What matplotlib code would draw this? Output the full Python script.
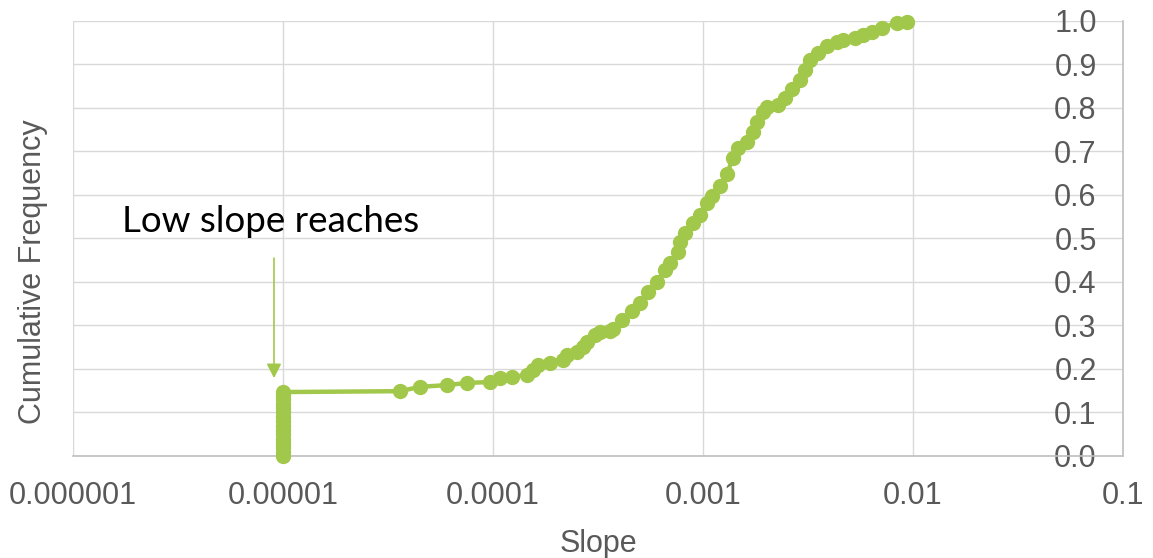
import numpy as np
import matplotlib.pyplot as plt

# slope values and cumulative frequency of the reaches
slope = [1e-5, 1e-5, 1e-5, 1e-5, 1e-5, 1e-5, 1e-5, 1e-5,
         1e-5, 1e-5, 1e-5, 1e-5, 1e-5, 1e-5, 1e-5, 1e-5,
         3.61e-5, 4.49e-5, 6.04e-5, 7.52e-5, 9.67e-5, 1.08e-4, 1.23e-4,
         1.45e-4, 1.55e-4, 1.64e-4, 1.87e-4, 2.15e-4, 2.25e-4, 2.51e-4,
         2.68e-4, 2.80e-4, 3.06e-4, 3.23e-4, 3.61e-4, 3.73e-4, 4.11e-4,
         4.59e-4, 5.01e-4, 5.47e-4, 6.04e-4, 6.59e-4, 6.97e-4, 7.60e-4,
         7.77e-4, 8.21e-4, 8.96e-4, 9.67e-4, 1.045e-3, 1.10e-3, 1.21e-3,
         1.30e-3, 1.39e-3, 1.47e-3, 1.62e-3, 1.73e-3, 1.81e-3, 1.93e-3,
         2.02e-3, 2.28e-3, 2.46e-3, 2.65e-3, 2.90e-3, 3.06e-3, 3.23e-3,
         3.53e-3, 3.90e-3, 4.35e-3, 4.64e-3, 5.29e-3, 5.78e-3, 6.38e-3,
         7.12e-3, 8.39e-3, 9.36e-3]
cum_freq = [0.0, 0.01, 0.02, 0.03, 0.04, 0.05, 0.06, 0.07,
            0.08, 0.09, 0.10, 0.11, 0.12, 0.13, 0.14, 0.147,
            0.149, 0.159, 0.163, 0.168, 0.170, 0.179, 0.182,
            0.186, 0.198, 0.209, 0.214, 0.221, 0.232, 0.239,
            0.251, 0.262, 0.278, 0.285, 0.288, 0.292, 0.312,
            0.333, 0.352, 0.377, 0.400, 0.428, 0.443, 0.470,
            0.492, 0.513, 0.536, 0.554, 0.582, 0.597, 0.620,
            0.648, 0.686, 0.708, 0.722, 0.745, 0.768, 0.791,
            0.802, 0.808, 0.823, 0.843, 0.864, 0.887, 0.910,
            0.926, 0.942, 0.952, 0.956, 0.961, 0.968, 0.975,
            0.985, 0.995, 0.997]

xticks = [1e-6, 1e-5, 1e-4, 1e-3, 1e-2, 1e-1]
xtick_labels = ['0.000001', '0.00001', '0.0001', '0.001', '0.01', '0.1']
yticks = np.round(np.arange(0, 1.01, 0.1), 1)

green = '#a2c84b'
txt_gray = '#595959'

plt.rcParams['font.family'] = ['Liberation Sans', 'DejaVu Sans']

fig = plt.figure(figsize=(11.53, 5.58), dpi=100)
ax = fig.add_axes([0.0633, 0.1828, 0.9107, 0.7796])

ax.plot(slope, cum_freq, color=green, lw=3.2, marker='o', markersize=10,
        markeredgecolor=green, clip_on=False, zorder=3)

ax.set_xscale('log')
ax.set_xlim(1e-6, 1e-1)
ax.set_ylim(0, 1)
ax.set_xticks(xticks)
ax.set_xticklabels(xtick_labels)
ax.xaxis.set_minor_locator(plt.NullLocator())
ax.set_yticks(yticks)
ax.set_yticklabels(['%.1f' % v for v in yticks])

ax.grid(True, color='#d9d9d9', lw=1.0)
ax.set_axisbelow(True)
for s in ['top', 'left']:
    ax.spines[s].set_visible(False)
for s in ['bottom', 'right']:
    ax.spines[s].set_color('#bfbfbf')
    ax.spines[s].set_linewidth(1.2)

ax.yaxis.tick_right()
ax.tick_params(axis='x', length=0, pad=18, labelsize=22, labelcolor=txt_gray)
ax.tick_params(axis='y', length=0, pad=-19, labelsize=22, labelcolor=txt_gray)
for lab in ax.get_yticklabels():
    lab.set_horizontalalignment('right')

ax.set_xlabel('Slope', fontsize=22, color=txt_gray, labelpad=13)
ax.yaxis.set_label_position('left')
ax.set_ylabel('Cumulative Frequency', fontsize=22, color=txt_gray, labelpad=18)
ax.yaxis.label.set_y(0.423)

# callout for the reaches with the minimum slope
ax.annotate('', xy=(9.06e-6, 0.179), xytext=(9.06e-6, 0.455),
            arrowprops=dict(arrowstyle='-|>,head_length=0.43,head_width=0.22',
                            mutation_scale=20, color=green, lw=1.2,
                            shrinkA=0, shrinkB=0))
ax.text(10 ** -5.767, 0.538, 'Low slope reaches', fontsize=26.5,
        family=['Lato', 'DejaVu Sans'], color='black', va='center', ha='left')

fig.savefig('out.png', dpi=100)
